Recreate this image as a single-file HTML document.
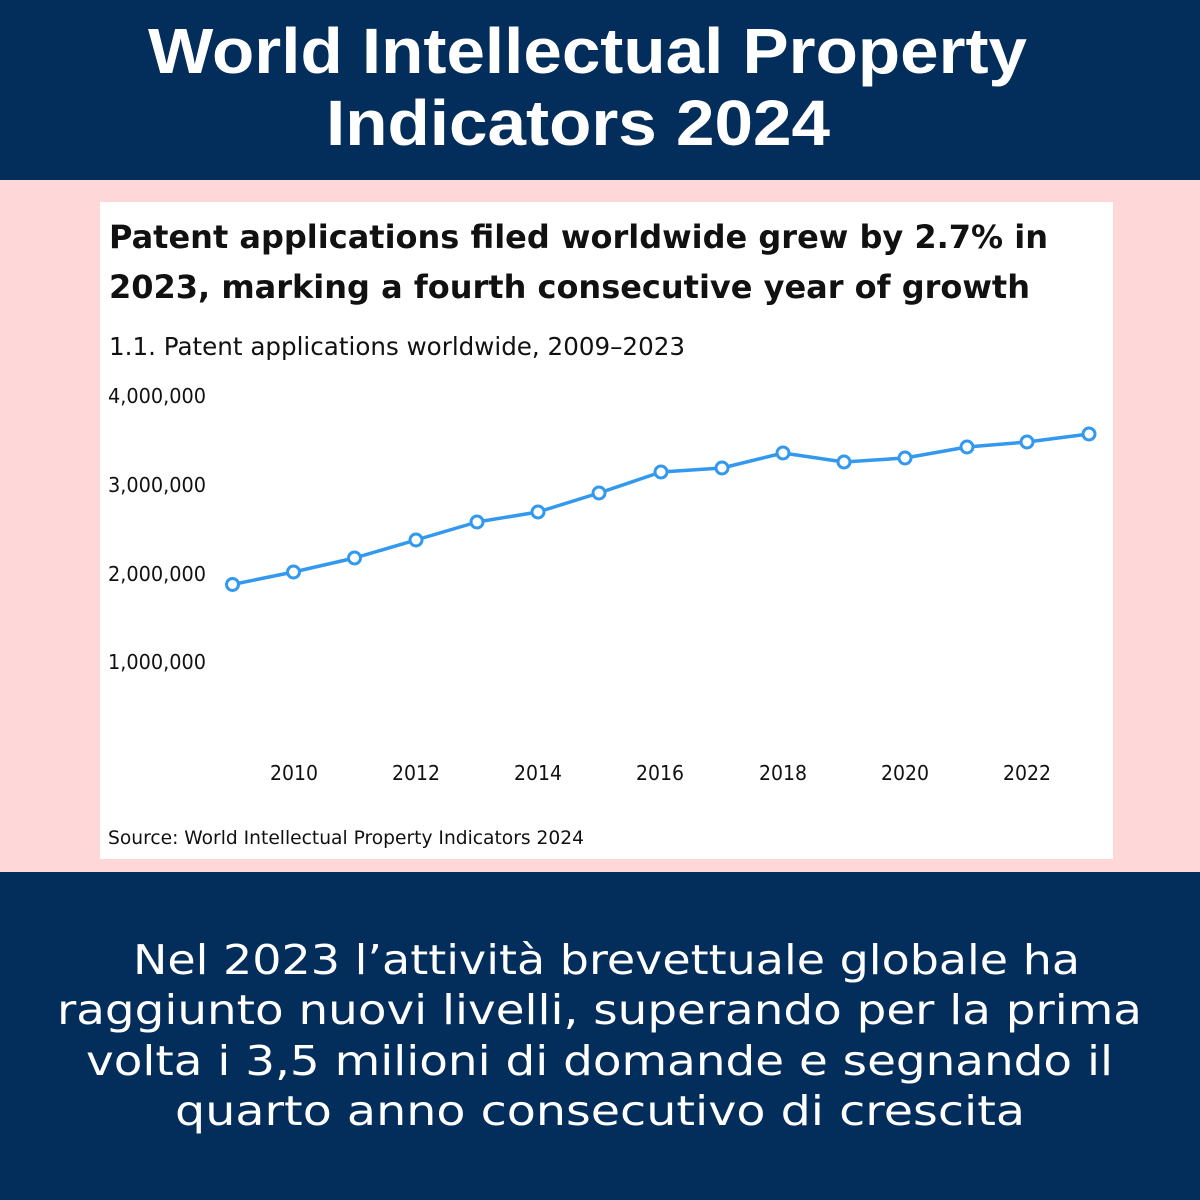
<!DOCTYPE html>
<html>
<head>
<meta charset="utf-8">
<style>
  html, body { margin: 0; padding: 0; }
  body { width: 1200px; height: 1200px; overflow: hidden; background: #032d5b; }
  svg { display: block; }
</style>
</head>
<body>
<svg width="1200" height="1200" viewBox="0 0 1200 1200" xmlns="http://www.w3.org/2000/svg">
  <!-- backgrounds -->
  <rect x="0" y="0" width="1200" height="180" fill="#032d5b"/>
  <rect x="0" y="180" width="1200" height="692" fill="#fed8d8"/>
  <rect x="0" y="872" width="1200" height="328" fill="#032d5b"/>
  <rect x="100" y="202" width="1013" height="657" fill="#ffffff"/>

  <!-- header title -->
  <g font-family="'Liberation Sans', 'DejaVu Sans', sans-serif" font-weight="bold" fill="#ffffff" font-size="64">
    <text x="148" y="73" textLength="879" lengthAdjust="spacingAndGlyphs">World Intellectual Property</text>
    <text x="326" y="145" textLength="504" lengthAdjust="spacingAndGlyphs">Indicators 2024</text>
  </g>

  <!-- chart title -->
  <g font-family="'DejaVu Sans', 'Liberation Sans', sans-serif" fill="#111111">
    <text x="109" y="248" font-size="32" font-weight="bold" textLength="939" lengthAdjust="spacingAndGlyphs">Patent applications filed worldwide grew by 2.7% in</text>
    <text x="109" y="298" font-size="32" font-weight="bold" textLength="921" lengthAdjust="spacingAndGlyphs">2023, marking a fourth consecutive year of growth</text>
    <text x="109" y="355" font-size="25" textLength="576" lengthAdjust="spacingAndGlyphs">1.1. Patent applications worldwide, 2009–2023</text>
  </g>

  <!-- y axis labels -->
  <g font-family="'DejaVu Sans', 'Liberation Sans', sans-serif" fill="#111111" font-size="20">
    <text x="108" y="403" textLength="98" lengthAdjust="spacingAndGlyphs">4,000,000</text>
    <text x="108" y="492" textLength="98" lengthAdjust="spacingAndGlyphs">3,000,000</text>
    <text x="108" y="581" textLength="98" lengthAdjust="spacingAndGlyphs">2,000,000</text>
    <text x="108" y="669" textLength="98" lengthAdjust="spacingAndGlyphs">1,000,000</text>
  </g>

  <!-- x axis labels -->
  <g font-family="'DejaVu Sans', 'Liberation Sans', sans-serif" fill="#111111" font-size="20">
    <text x="270" y="780" textLength="48" lengthAdjust="spacingAndGlyphs">2010</text>
    <text x="392" y="780" textLength="48" lengthAdjust="spacingAndGlyphs">2012</text>
    <text x="514" y="780" textLength="48" lengthAdjust="spacingAndGlyphs">2014</text>
    <text x="636" y="780" textLength="48" lengthAdjust="spacingAndGlyphs">2016</text>
    <text x="759" y="780" textLength="48" lengthAdjust="spacingAndGlyphs">2018</text>
    <text x="881" y="780" textLength="48" lengthAdjust="spacingAndGlyphs">2020</text>
    <text x="1003" y="780" textLength="48" lengthAdjust="spacingAndGlyphs">2022</text>
  </g>

  <!-- source -->
  <text x="108" y="844" font-family="'DejaVu Sans', 'Liberation Sans', sans-serif" fill="#111111" font-size="19" textLength="476" lengthAdjust="spacingAndGlyphs">Source: World Intellectual Property Indicators 2024</text>

  <!-- series -->
  <polyline fill="none" stroke="#3399ee" stroke-width="3.5" stroke-linejoin="round"
    points="232.5,584.5 293.5,572 354.5,558 416,540 477,522 538,512 599,493 661,472 722,468 783,453 844,462 905,458 967,447 1027,442 1089,434"/>
  <g fill="#ffffff" stroke="#3399ee" stroke-width="3">
    <circle cx="232.5" cy="584.5" r="6"/>
    <circle cx="293.5" cy="572" r="6"/>
    <circle cx="354.5" cy="558" r="6"/>
    <circle cx="416" cy="540" r="6"/>
    <circle cx="477" cy="522" r="6"/>
    <circle cx="538" cy="512" r="6"/>
    <circle cx="599" cy="493" r="6"/>
    <circle cx="661" cy="472" r="6"/>
    <circle cx="722" cy="468" r="6"/>
    <circle cx="783" cy="453" r="6"/>
    <circle cx="844" cy="462" r="6"/>
    <circle cx="905" cy="458" r="6"/>
    <circle cx="967" cy="447" r="6"/>
    <circle cx="1027" cy="442" r="6"/>
    <circle cx="1089" cy="434" r="6"/>
  </g>

  <!-- bottom text -->
  <g font-family="'DejaVu Sans', 'Liberation Sans', sans-serif" fill="#ffffff" font-size="41">
    <text x="133" y="974" textLength="947" lengthAdjust="spacingAndGlyphs">Nel 2023 l’attività brevettuale globale ha</text>
    <text x="57" y="1024" textLength="1085" lengthAdjust="spacingAndGlyphs">raggiunto nuovi livelli, superando per la prima</text>
    <text x="86" y="1075" textLength="1027" lengthAdjust="spacingAndGlyphs">volta i 3,5 milioni di domande e segnando il</text>
    <text x="175" y="1125" textLength="850" lengthAdjust="spacingAndGlyphs">quarto anno consecutivo di crescita</text>
  </g>
</svg>
</body>
</html>
